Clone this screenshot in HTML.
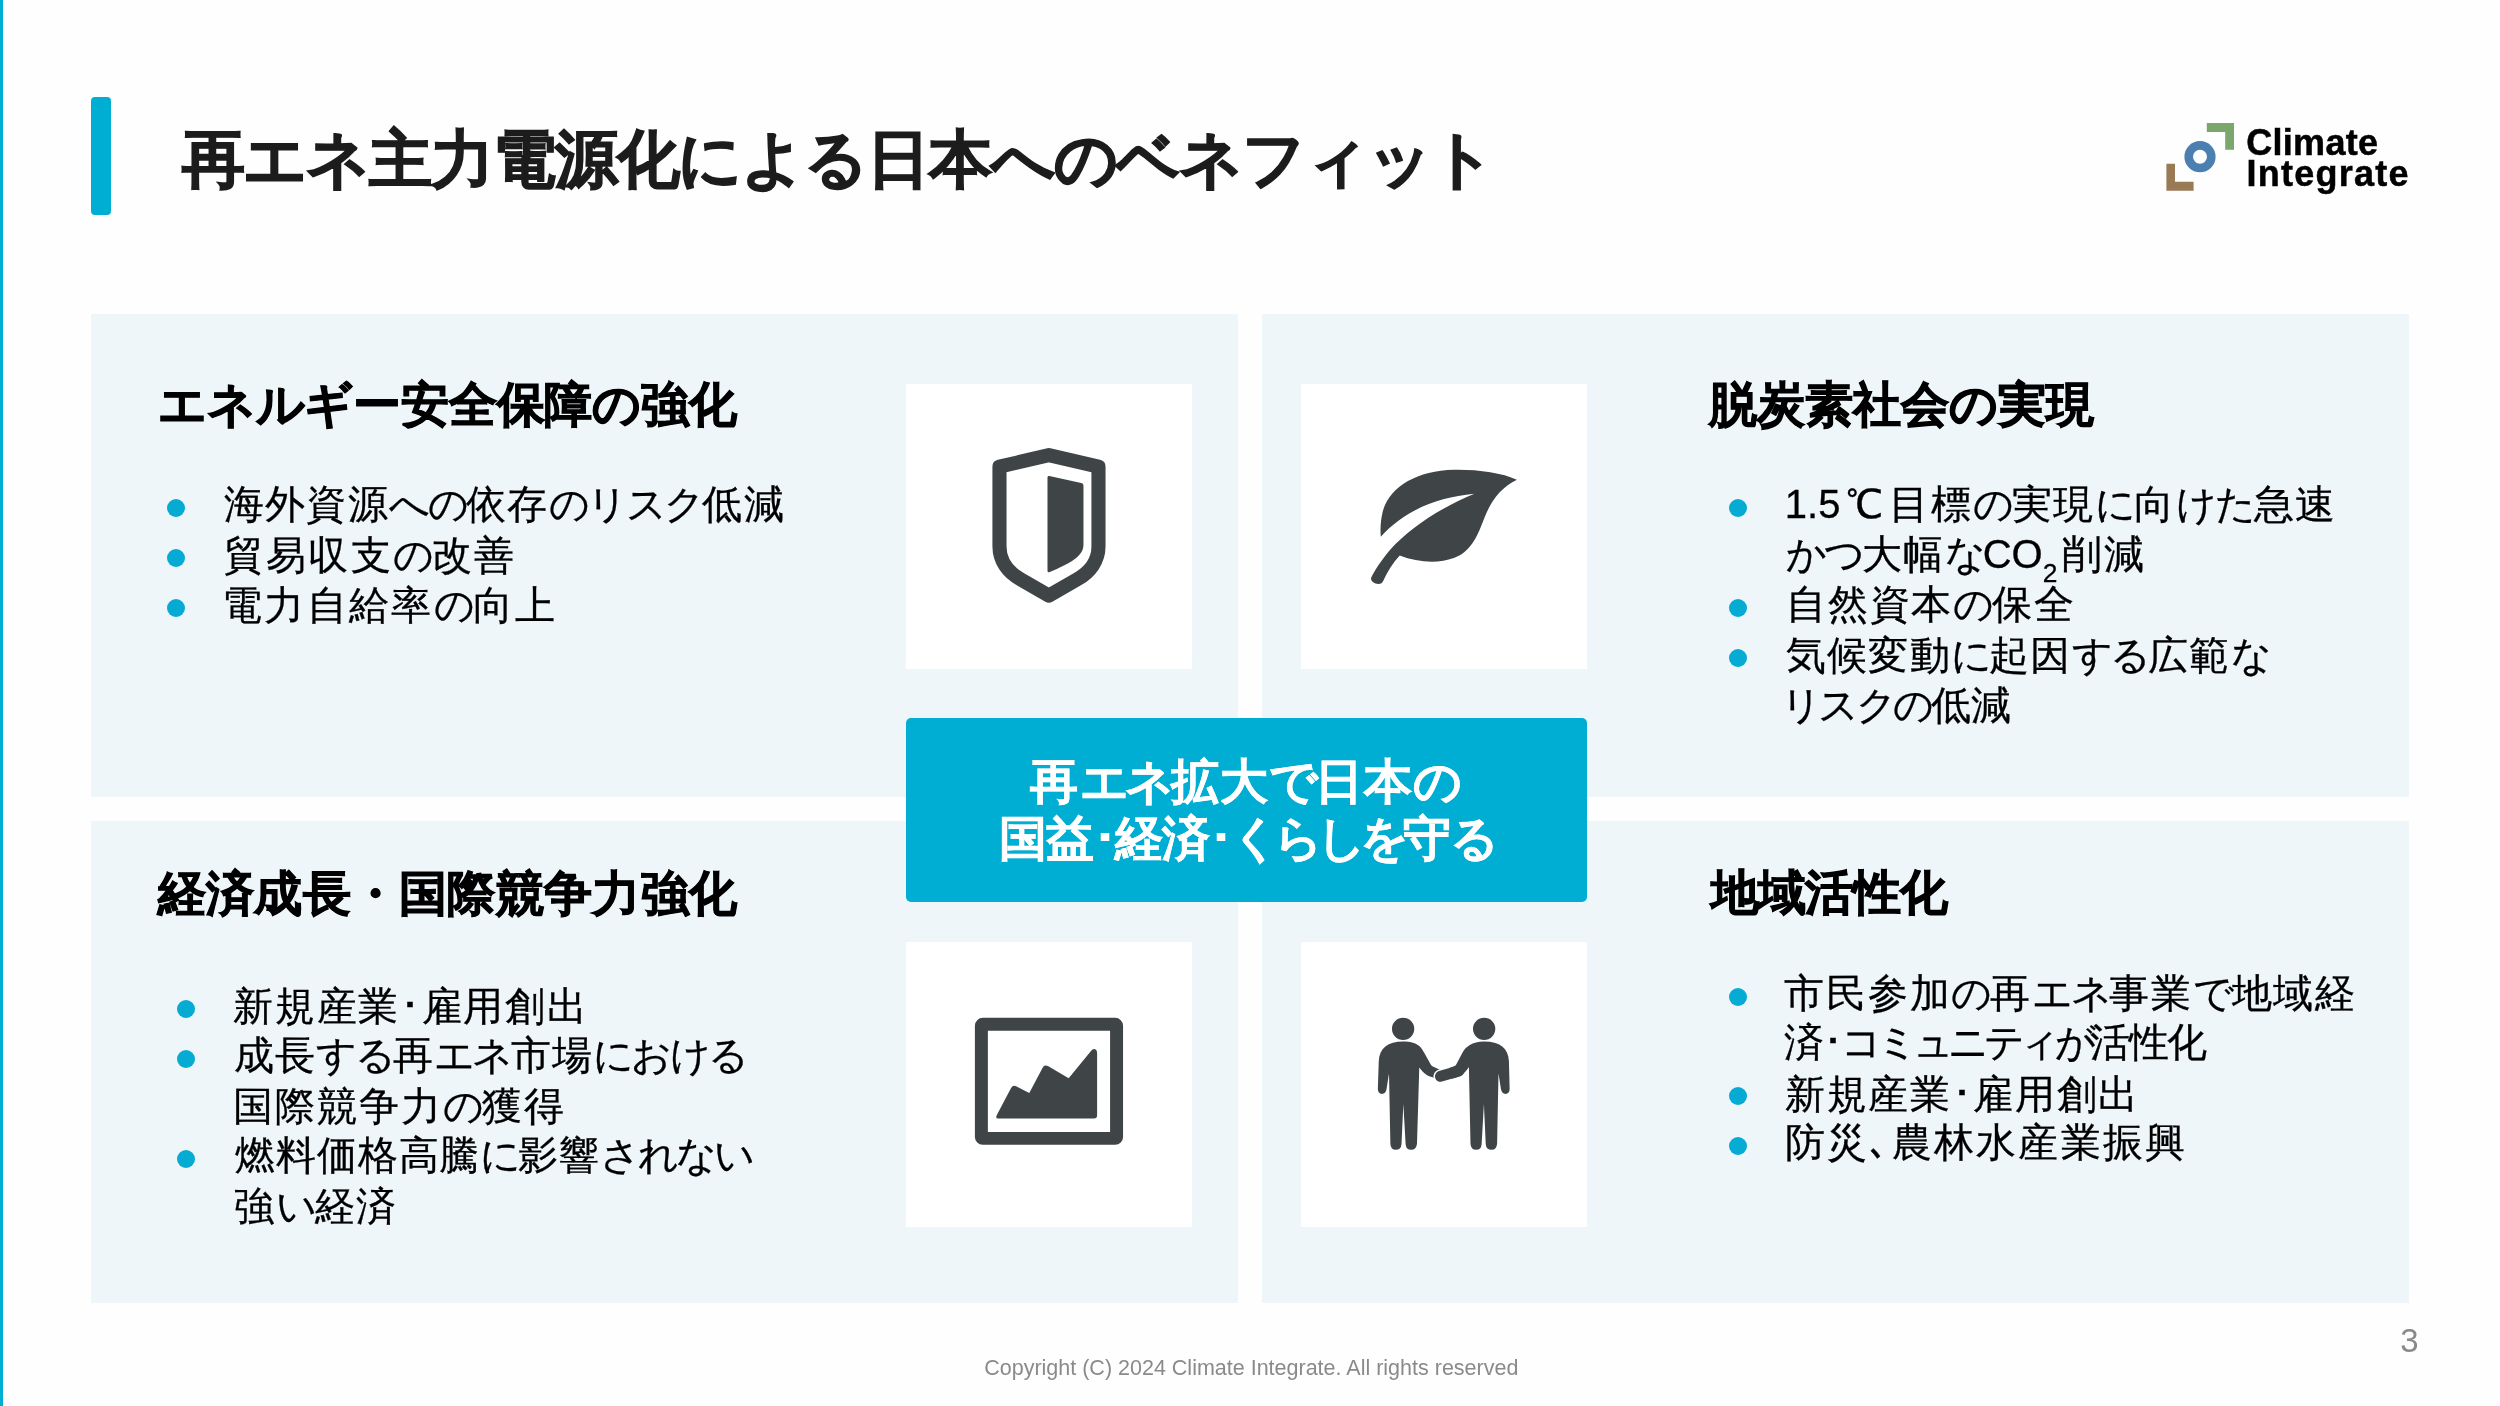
<!DOCTYPE html>
<html lang="ja">
<head>
<meta charset="utf-8">
<title>再エネ主力電源化による日本へのベネフィット</title>
<style>
*{margin:0;padding:0;box-sizing:border-box}
html,body{width:2500px;height:1406px;overflow:hidden;background:#fefefe}
body{position:relative;-webkit-font-smoothing:antialiased;font-family:"Liberation Sans",sans-serif;color:#000}
.abs{position:absolute}
.j,.logo,.foot,.pnum{filter:grayscale(1)}
.edge{left:0;top:0;width:3px;height:1406px;background:#00aed3}
.tbar{left:91px;top:97px;width:20px;height:118px;border-radius:4px;background:#00aed3}
.j{white-space:nowrap;text-align:justify;text-align-last:justify;letter-spacing:-.1em}
.k{letter-spacing:-.2em}
.l{letter-spacing:0}
.title{font-size:62.6px;font-weight:700;-webkit-text-stroke:1.3px #1c1c1c;line-height:78px;height:78px;color:#1c1c1c}
.panel{background:#eef6fa}
.ibox{background:#fff;width:286px;height:285px}
.h2{font-size:48.4px;font-weight:700;-webkit-text-stroke:1px #000;line-height:60px;height:60px}
.t{font-size:40px;-webkit-text-stroke:.3px #000;line-height:50px;height:50px}
.c{font-size:48.4px;font-weight:700;-webkit-text-stroke:.5px #fff;line-height:60px;height:60px;color:#fff}
.dot{width:18px;height:18px;border-radius:50%;background:#06abd3}
.center{left:906px;top:718px;width:681px;height:184px;border-radius:5px;background:#00aed3}
.foot{left:751.3px;top:1353.3px;width:1000px;text-align:center;font-size:21.5px;line-height:30px;color:#8a8a8a;white-space:nowrap}
.pnum{left:2379.5px;top:1320.5px;width:60px;text-align:center;font-size:33px;line-height:40px;color:#8a8a8a}
.logo{-webkit-text-stroke:.5px #060001;font-weight:700;font-size:36px;line-height:36px;color:#060001;white-space:nowrap}
sub{font-size:.66em;vertical-align:baseline;position:relative;top:.52em;line-height:0}
</style>
</head>
<body>
<div class="abs edge"></div>
<div class="abs tbar"></div>

<!-- logo -->
<svg class="abs" style="left:2160px;top:116px" width="84" height="82" viewBox="2160 116 84 82">
  <path d="M2206.8 123H2234V149.8H2225.2V132H2206.8Z" fill="#7ba66c"/>
  <circle cx="2200" cy="156.7" r="11.3" fill="none" stroke="#4a7fb0" stroke-width="8.6"/>
  <path d="M2166.4 163.8H2175V181.8H2193.6V190.7H2166.4Z" fill="#987a55"/>
</svg>
<div class="abs logo" style="left:2246.2px;top:125.2px;letter-spacing:.3px">Climate</div>
<div class="abs logo" style="left:2246.6px;top:156.3px;letter-spacing:1.25px">Integrate</div>

<!-- panels -->
<div class="abs panel" style="left:91px;top:314px;width:1147px;height:483px"></div>
<div class="abs panel" style="left:1262px;top:314px;width:1147px;height:483px"></div>
<div class="abs panel" style="left:91px;top:821px;width:1147px;height:482px"></div>
<div class="abs panel" style="left:1262px;top:821px;width:1147px;height:482px"></div>

<!-- icon boxes -->
<div class="abs ibox" style="left:906px;top:384px"></div>
<div class="abs ibox" style="left:1301px;top:384px"></div>
<div class="abs ibox" style="left:906px;top:942px"></div>
<div class="abs ibox" style="left:1301px;top:942px"></div>

<!-- bullets -->
<div class="abs dot" style="left:166.6px;top:499.2px"></div>
<div class="abs dot" style="left:166.6px;top:549.2px"></div>
<div class="abs dot" style="left:166.6px;top:599.2px"></div>
<div class="abs dot" style="left:1728.8px;top:499.2px"></div>
<div class="abs dot" style="left:1728.8px;top:599.2px"></div>
<div class="abs dot" style="left:1728.8px;top:649.2px"></div>
<div class="abs dot" style="left:177.0px;top:1000.0px"></div>
<div class="abs dot" style="left:177.0px;top:1050.0px"></div>
<div class="abs dot" style="left:177.0px;top:1150.0px"></div>
<div class="abs dot" style="left:1728.8px;top:987.6px"></div>
<div class="abs dot" style="left:1728.8px;top:1087.2px"></div>
<div class="abs dot" style="left:1728.8px;top:1137.4px"></div>

<!-- banner box -->
<div class="abs center"></div>

<!-- TEXT -->
<div class="abs j title" style="left:181.6px;top:119.8px;width:1306.9px">再エネ主力電源化による日本へのベネフィット</div>
<div class="abs j h2" style="left:157.9px;top:374.0px;width:574.1px">エネルギー安全保障の強化</div>
<div class="abs j h2" style="left:1709.3px;top:374.2px;width:380.3px">脱炭素社会の実現</div>
<div class="abs j h2" style="left:157.9px;top:862.8px;width:574.1px">経済成長・国際競争力強化</div>
<div class="abs j h2" style="left:1711.3px;top:861.8px;width:231.5px">地域活性化</div>
<div class="abs j t" style="left:223.6px;top:478.7px;width:556.2px">海外資源<span class="k">への</span>依存<span class="k">のリスク</span>低減</div>
<div class="abs j t" style="left:224.2px;top:529.6px;width:285.8px">貿易収支<span class="k">の</span>改善</div>
<div class="abs j t" style="left:222.0px;top:580.4px;width:329.4px">電力自給率<span class="k">の</span>向上</div>
<div class="abs j t" style="left:1784.8px;top:479.0px;width:546.6px"><span class="l">1.5℃</span>目標<span class="k">の</span>実現<span class="k">に</span>向<span class="k">けた</span>急速</div>
<div class="abs j t" style="left:1786.0px;top:529.0px;width:353.6px"><span class="k">かつ</span>大幅<span class="k">な</span><span class="l">CO<sub>2</sub></span>削減</div>
<div class="abs j t" style="left:1785.6px;top:579.0px;width:284.8px">自然資本<span class="k">の</span>保全</div>
<div class="abs j t" style="left:1786.0px;top:629.7px;width:477.6px">気候変動<span class="k">に</span>起因<span class="k">する</span>広範<span class="k">な</span></div>
<div class="abs j t" style="left:1780.6px;top:680.0px;width:226.8px"><span class="k">リスクの</span>低減</div>
<div class="abs j t" style="left:233.2px;top:981.1px;width:349.6px">新規産業･雇用創出</div>
<div class="abs j t" style="left:233.8px;top:1030.0px;width:507.0px">成長<span class="k">する</span>再<span class="k">エネ</span>市場<span class="k">における</span></div>
<div class="abs j t" style="left:232.8px;top:1080.7px;width:327.6px">国際競争力<span class="k">の</span>獲得</div>
<div class="abs j t" style="left:234.8px;top:1130.2px;width:512.2px">燃料価格高騰<span class="k">に</span>影響<span class="k">されない</span></div>
<div class="abs j t" style="left:233.8px;top:1181.4px;width:158.6px">強<span class="k">い</span>経済</div>
<div class="abs j t" style="left:1784.4px;top:968.2px;width:566.8px">市民参加<span class="k">の</span>再<span class="k">エネ</span>事業<span class="k">で</span>地域経</div>
<div class="abs j t" style="left:1784.4px;top:1017.4px;width:418.8px">済･<span class="k">コミュニティが</span>活性化</div>
<div class="abs j t" style="left:1785.0px;top:1068.6px;width:349.2px">新規産業･雇用創出</div>
<div class="abs j t" style="left:1785.0px;top:1117.3px;width:396.2px">防災､農林水産業振興</div>
<div class="abs j c" style="left:1030.3px;top:750.7px;width:422.5px">再<span class="k">エネ</span>拡大<span class="k">で</span>日本<span class="k">の</span></div>
<div class="abs j c" style="left:999.3px;top:808.3px;width:489.6px">国益･経済･<span class="k">くらしを</span>守<span class="k">る</span></div>
<!-- /TEXT -->

<!-- ICONS : each svg covers a 320x320 px area, viewBox is 1406 units (4.394x) -->
<!-- shield -->
<svg class="abs" style="left:890px;top:370px" width="320" height="320" viewBox="0 0 1406 1406">
  <path d="M698 374 L916 425 V776 C916 837 880 888 822 920 L698 991 L574 920 C516 888 481 837 481 776 V425 Z" fill="none" stroke="#3f4447" stroke-width="62" stroke-linejoin="round"/>
  <path d="M692 472 Q692 464 700 466 L840 497 Q850 499 850 508 V768 C850 820 790 850 702 888 Q692 892 692 882 Z" fill="#3f4447"/>
</svg>
<!-- leaf -->
<svg class="abs" style="left:1290px;top:370px" width="320" height="320" viewBox="0 0 1406 1406">
  <path d="M997 482 C930 450 820 436 720 438 C560 442 440 510 408 620 C398 660 396 700 399 733 C500 620 640 560 810 544 C650 610 520 700 440 790 C400 838 372 880 357 912 C352 926 370 938 388 940 C400 940 405 936 410 926 C428 886 452 848 482 815 C560 845 650 852 720 826 C790 800 820 740 850 660 C880 580 920 520 997 482 Z" fill="#3f4447"/>
</svg>
<!-- chart -->
<svg class="abs" style="left:890px;top:925px" width="320" height="320" viewBox="0 0 1406 1406">
  <rect x="401.500" y="436.500" width="594" height="501" rx="6" fill="none" stroke="#3f4447" stroke-width="57" stroke-linejoin="round"/>
  <path d="M474 850 Q462 850 470 834 L532 716 Q540 702 554 708 L612 738 L670 628 Q678 612 694 620 L785 673 L884 552 Q892 542 902 546 Q910 550 910 562 V836 Q910 850 896 850 Z" fill="#3f4447"/>
</svg>
<!-- people -->
<svg class="abs" style="left:1290px;top:925px" width="320" height="320" viewBox="0 0 1406 1406">
  <g fill="#3f4447">
    <circle cx="497" cy="456" r="49"/>
    <path d="M390 600 C392 540 430 512 497 512 C560 512 576 536 589 560 L619 614 Q623 620 630 623 L692 651 L662 682 L626 669 C606 664 590 656 568 626 L558 960 Q556 988 532 988 Q510 988 508 962 L498 786 L490 962 Q488 988 464 988 Q442 988 441 960 L435 652 L424 722 Q420 742 404 742 Q386 742 386 720 Z"/>
  </g>
  <path d="M661 665 L742 641" stroke="#fff" stroke-width="61" stroke-linecap="round" fill="none"/>
  <path d="M661 665 L742 641" stroke="#3f4447" stroke-width="48" stroke-linecap="round" fill="none"/>
  <g fill="#3f4447">
    <circle cx="853" cy="456" r="49"/>
    <path d="M962 600 C960 540 922 512 853 512 C800 512 771 536 757 562 L731 612 Q728 618 721 621 L700 628 L712 676 L736 668 C760 660 772 645 786 624 L793 960 Q794 988 818 988 Q840 988 842 962 L852 786 L860 962 Q862 988 886 988 Q908 988 910 960 L916 652 L927 722 Q931 742 947 742 Q965 742 965 720 Z"/>
  </g>
</svg>

<div class="abs foot">Copyright (C) 2024 Climate Integrate. All rights reserved</div>
<div class="abs pnum">3</div>
</body>
</html>
